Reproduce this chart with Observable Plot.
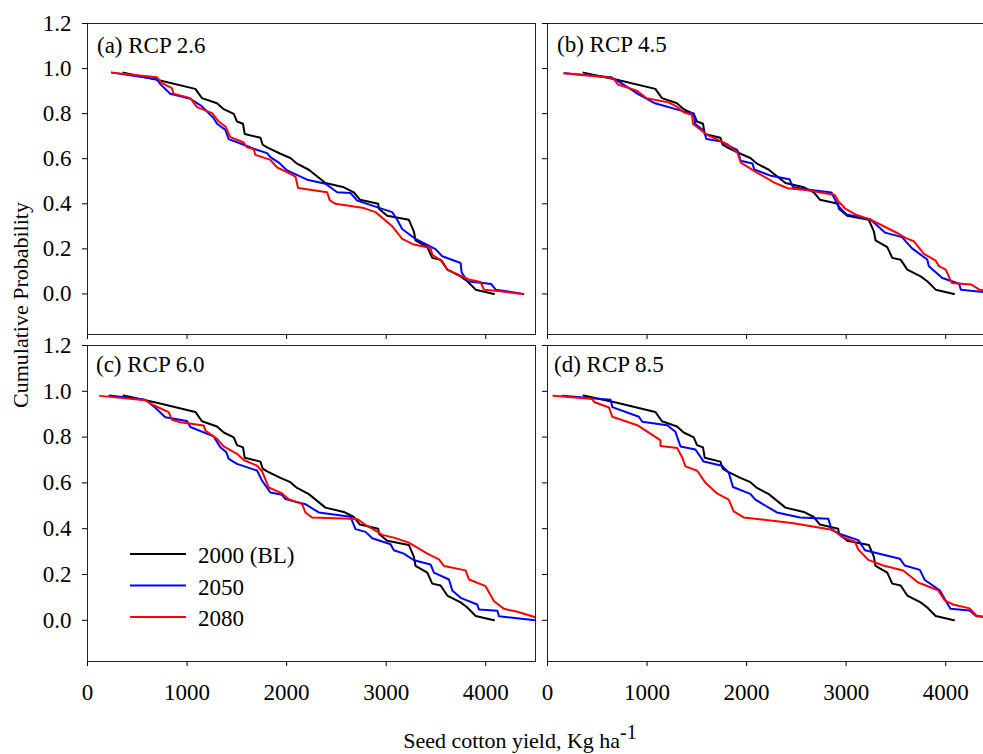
<!DOCTYPE html>
<html>
<head>
<meta charset="utf-8">
<script src="https://cdn.jsdelivr.net/npm/d3@7"></script>
<script src="https://cdn.jsdelivr.net/npm/@observablehq/plot@0.6"></script>
<style>
  html, body { margin: 0; padding: 0; background: #fff; overflow: hidden; }
  #wrap { position: relative; width: 983px; height: 754px; overflow: hidden; background: #fff; }
  #wrap > svg, #wrap > figure { position: absolute; margin: 0; }
  #wrap svg, #wrap svg text, #wrap svg g { font-family: 'Liberation Serif', 'Times New Roman', serif !important; }
  #overlay { position: absolute; left: 0; top: 0; pointer-events: none; }
</style>
</head>
<body>
<div id="wrap"></div>
<script>
// ---------- data (yield kg/ha, cumulative probability) ----------
const panelLabels = ["(a) RCP 2.6", "(b) RCP 4.5", "(c) RCP 6.0", "(d) RCP 8.5"];
const seriesNames = ["2000 (BL)", "2050", "2080"];
const seriesColors = ["#000000", "#0000ff", "#ff0000"];
const xTicks = [0, 1000, 2000, 3000, 4000];
const yTicks = [0, 0.2, 0.4, 0.6, 0.8, 1.0, 1.2];

// baseline 2000 (same in all panels)
const baseline2000 = [[362,0.982],[697,0.950],[1083,0.910],[1150,0.869],[1301,0.846],[1368,0.820],[1469,0.799],[1502,0.765],[1562,0.755],[1579,0.710],[1737,0.693],[1760,0.662],[1804,0.650],[1938,0.622],[2038,0.603],[2105,0.578],[2223,0.551],[2390,0.492],[2575,0.473],[2675,0.451],[2736,0.418],[2920,0.400],[2927,0.378],[3010,0.347],[3228,0.329],[3278,0.278],[3295,0.238],[3413,0.208],[3463,0.160],[3547,0.152],[3614,0.108],[3748,0.078],[3815,0.056],[3899,0.019],[4083,0.0]];

// RCP 2.6
const rcp26_2050 = [[245,0.982],[697,0.953],[731,0.931],[831,0.888],[1033,0.866],[1150,0.832],[1267,0.780],[1301,0.755],[1385,0.728],[1418,0.687],[1569,0.662],[1669,0.644],[1804,0.625],[1837,0.607],[1921,0.583],[2005,0.548],[2206,0.507],[2390,0.489],[2508,0.451],[2642,0.448],[2709,0.414],[3061,0.363],[3111,0.329],[3161,0.288],[3295,0.244],[3496,0.199],[3563,0.167],[3748,0.137],[3758,0.096],[3815,0.056],[4056,0.044],[4100,0.019],[4378,0.0]];
const rcp26_2080 = [[245,0.982],[697,0.962],[748,0.935],[848,0.913],[865,0.888],[1033,0.869],[1100,0.829],[1251,0.802],[1318,0.765],[1385,0.743],[1435,0.696],[1569,0.672],[1602,0.651],[1669,0.643],[1686,0.617],[1837,0.595],[1905,0.561],[1988,0.544],[2089,0.521],[2115,0.470],[2407,0.451],[2434,0.415],[2491,0.400],[2776,0.381],[2893,0.363],[3061,0.300],[3161,0.244],[3278,0.219],[3446,0.204],[3463,0.174],[3563,0.145],[3614,0.108],[3832,0.064],[3949,0.053],[3982,0.019],[4150,0.012],[4368,0.0]];

// RCP 4.5
const rcp45_2050 = [[169,0.979],[641,0.961],[743,0.935],[911,0.887],[1080,0.846],[1367,0.810],[1468,0.801],[1485,0.754],[1570,0.724],[1597,0.687],[1738,0.677],[1907,0.638],[1941,0.591],[2059,0.579],[2076,0.553],[2245,0.524],[2430,0.509],[2464,0.475],[2582,0.464],[2852,0.450],[2920,0.390],[3004,0.353],[3241,0.331],[3392,0.272],[3561,0.252],[3662,0.202],[3814,0.153],[3831,0.123],[3966,0.071],[4135,0.045],[4152,0.019],[4402,0.007],[4460,0.004]];
const rcp45_2080 = [[169,0.979],[658,0.958],[709,0.929],[895,0.902],[996,0.868],[1215,0.850],[1300,0.831],[1367,0.806],[1452,0.795],[1462,0.754],[1603,0.706],[1806,0.665],[1907,0.628],[1941,0.583],[2076,0.546],[2278,0.494],[2413,0.469],[2616,0.460],[2886,0.439],[2920,0.412],[2987,0.380],[3105,0.350],[3241,0.331],[3392,0.297],[3527,0.267],[3595,0.249],[3679,0.234],[3781,0.178],[3899,0.148],[3932,0.123],[4000,0.108],[4061,0.049],[4253,0.042],[4338,0.019],[4402,0.015],[4460,0.012]];

// RCP 6.0
const rcp60_2050 = [[221,0.982],[580,0.963],[681,0.928],[781,0.887],[999,0.870],[1033,0.844],[1267,0.803],[1334,0.756],[1395,0.734],[1418,0.705],[1502,0.683],[1703,0.654],[1753,0.610],[1837,0.558],[1954,0.548],[1988,0.529],[2189,0.507],[2323,0.471],[2642,0.452],[2692,0.398],[2793,0.386],[2860,0.358],[3044,0.332],[3077,0.306],[3178,0.291],[3279,0.262],[3446,0.244],[3480,0.208],[3631,0.178],[3664,0.130],[3748,0.098],[3915,0.069],[3932,0.047],[4117,0.042],[4133,0.018],[4502,0.0]];
const rcp60_2080 = [[127,0.980],[580,0.961],[664,0.939],[815,0.909],[848,0.876],[932,0.865],[1167,0.851],[1183,0.829],[1301,0.792],[1368,0.759],[1502,0.727],[1569,0.700],[1703,0.675],[1753,0.651],[1820,0.580],[1954,0.554],[2021,0.529],[2156,0.507],[2189,0.471],[2256,0.449],[2709,0.442],[2793,0.417],[2910,0.387],[2960,0.373],[3077,0.361],[3228,0.339],[3413,0.291],[3530,0.266],[3580,0.237],[3798,0.218],[3832,0.178],[3999,0.149],[4083,0.083],[4184,0.050],[4318,0.037],[4502,0.013]];

// RCP 8.5
const rcp85_2050 = [[150,0.981],[634,0.963],[651,0.931],[918,0.889],[952,0.867],[1202,0.852],[1285,0.823],[1336,0.759],[1486,0.746],[1569,0.693],[1753,0.675],[1820,0.645],[1863,0.582],[2037,0.552],[2087,0.527],[2304,0.471],[2538,0.449],[2821,0.443],[2855,0.394],[2938,0.377],[3122,0.350],[3189,0.306],[3539,0.269],[3589,0.239],[3740,0.220],[3790,0.176],[3940,0.131],[4047,0.050],[4240,0.043],[4307,0.018],[4371,0.015],[4460,0.012]];
const rcp85_2080 = [[60,0.981],[451,0.966],[467,0.953],[618,0.929],[651,0.889],[902,0.852],[1068,0.805],[1135,0.786],[1135,0.761],[1302,0.752],[1352,0.712],[1386,0.672],[1503,0.653],[1586,0.601],[1703,0.554],[1820,0.527],[1870,0.476],[1970,0.449],[2471,0.424],[2871,0.394],[2955,0.365],[3088,0.343],[3122,0.309],[3222,0.264],[3372,0.239],[3573,0.217],[3723,0.165],[3923,0.131],[3990,0.087],[4074,0.069],[4240,0.052],[4307,0.021],[4371,0.015],[4460,0.012]];

const panelSeries = [
  [baseline2000, rcp26_2050, rcp26_2080],
  [baseline2000, rcp45_2050, rcp45_2080],
  [baseline2000, rcp60_2050, rcp60_2080],
  [baseline2000, rcp85_2050, rcp85_2080]
];

// ---------- layout ----------
const FONT = "'Liberation Serif', 'Times New Roman', serif";
const wrap = document.getElementById("wrap");
const layouts = [
  {left: 0,   top: 0,   ml: 87, mr: 5,  mt: 23, mb: 6,  ph: 311, showX: false, showY: true},
  {left: 540, top: 0,   ml: 7,  mr: 5,  mt: 23, mb: 6,  ph: 311, showX: false, showY: false},
  {left: 0,   top: 340, ml: 87, mr: 5,  mt: 5,  mb: 50, ph: 316, showX: true,  showY: true},
  {left: 540, top: 340, ml: 7,  mr: 5,  mt: 5,  mb: 50, ph: 316, showX: true,  showY: false}
];

layouts.forEach((L, i) => {
  const width = L.ml + 448 + L.mr;
  const height = L.mt + L.ph + L.mb;
  const marks = [];
  panelSeries[i].forEach((s, j) => {
    marks.push(Plot.line(s, {x: d => d[0], y: d => d[1], stroke: seriesColors[j], strokeWidth: 2, clip: true}));
  });
  marks.push(Plot.frame({stroke: "#222", strokeWidth: 1}));
  const chart = Plot.plot({
    width, height,
    marginLeft: L.ml, marginRight: L.mr, marginTop: L.mt, marginBottom: L.mb,
    style: {background: "transparent", fontFamily: FONT, fontSize: "23px", color: "#000", overflow: "visible"},
    x: {domain: [0, 4500], ticks: xTicks, tickSize: 5, tickPadding: 17, label: null,
        tickFormat: L.showX ? (d => String(d)) : (() => "")},
    y: {domain: [-0.18, 1.2], ticks: yTicks, tickSize: 5, tickPadding: 11, label: null,
        tickFormat: L.showY ? d3.format(".1f") : (() => "")},
    marks
  });
  chart.style.position = "absolute";
  chart.style.left = L.left + "px";
  chart.style.top = L.top + "px";
  chart.style.maxWidth = "none";
  wrap.appendChild(chart);
});

// ---------- overlay: panel labels, legend, axis titles ----------
const ns = "http://www.w3.org/2000/svg";
const ov = document.createElementNS(ns, "svg");
ov.setAttribute("id", "overlay");
ov.setAttribute("width", 983);
ov.setAttribute("height", 754);
ov.style.fontFamily = FONT;
wrap.appendChild(ov);

function txt(x, y, s, size, extra) {
  const t = document.createElementNS(ns, "text");
  t.setAttribute("x", x); t.setAttribute("y", y);
  t.setAttribute("font-size", size);
  t.setAttribute("fill", "#000");
  if (extra) for (const k in extra) t.setAttribute(k, extra[k]);
  t.textContent = s;
  ov.appendChild(t);
  return t;
}
const labelPos = [[97, 53], [557, 52], [96, 372], [554, 372]];
panelLabels.forEach((s, i) => txt(labelPos[i][0], labelPos[i][1], s, 23));

// legend in panel (c)
seriesNames.forEach((s, j) => {
  const y = 554 + j * 31.5;
  const l = document.createElementNS(ns, "line");
  l.setAttribute("x1", 130); l.setAttribute("x2", 186);
  l.setAttribute("y1", y); l.setAttribute("y2", y);
  l.setAttribute("stroke", seriesColors[j]); l.setAttribute("stroke-width", 2);
  ov.appendChild(l);
  txt(198, y + 9, s, 23);
});

// y title
txt(0, 0, "Cumulative Probability", 22, {"text-anchor": "middle", transform: "translate(28,305) rotate(-90)"});
// x title
const xt = txt(520, 748, "Seed cotton yield, Kg ha", 22, {"text-anchor": "middle"});
const sup = document.createElementNS(ns, "tspan");
sup.setAttribute("dy", -9); sup.setAttribute("font-size", 20);
sup.textContent = "-1";
xt.appendChild(sup);
</script>
</body>
</html>
